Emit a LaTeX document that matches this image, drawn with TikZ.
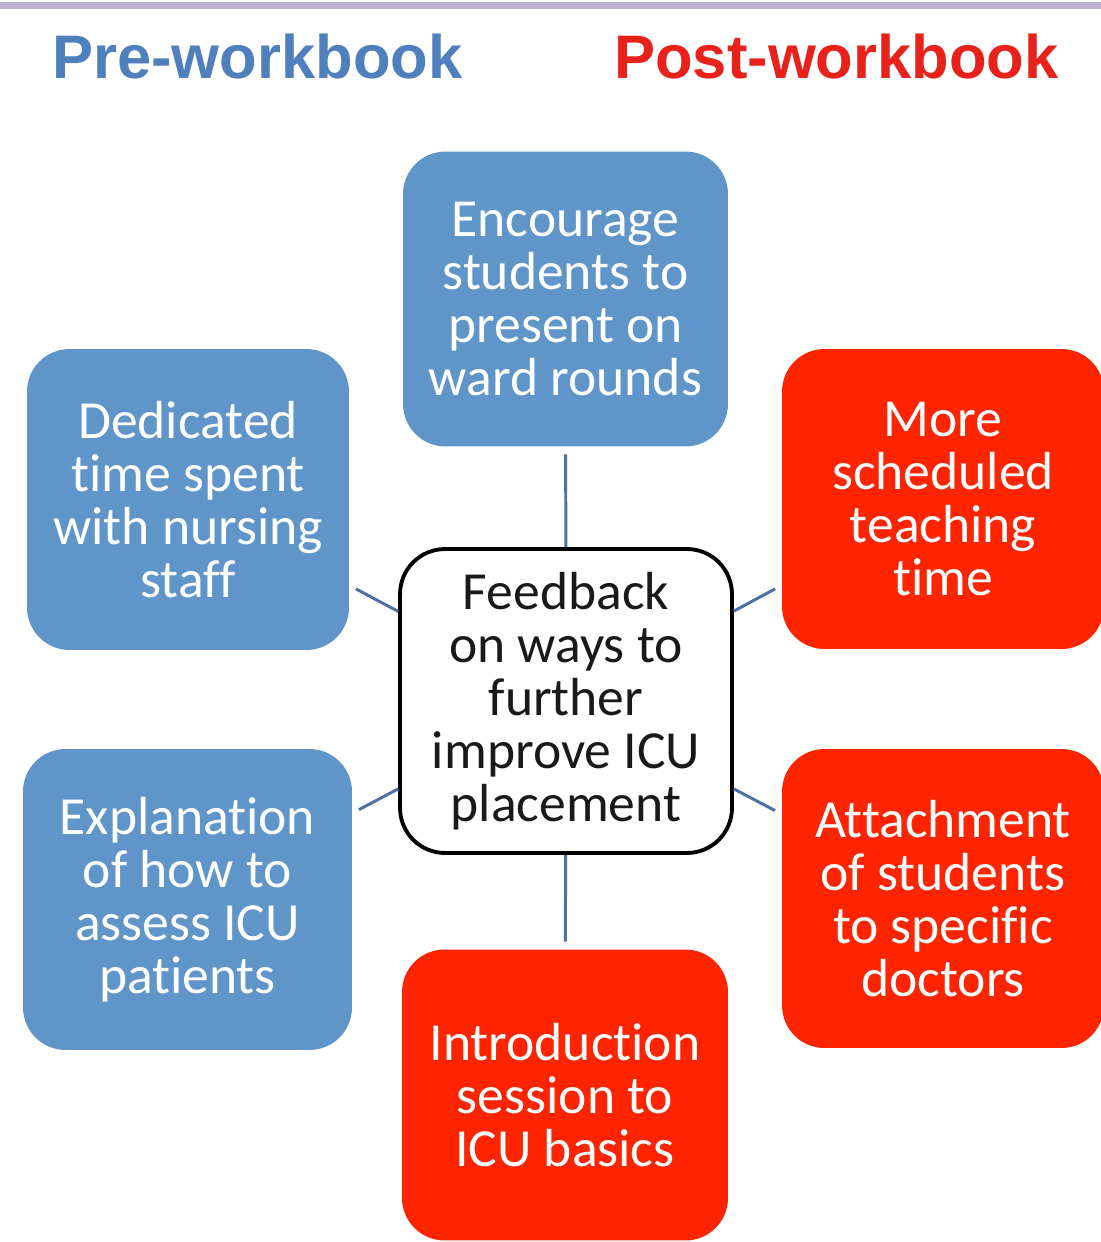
\documentclass[tikz,border=0pt]{standalone}
\usepackage{fontspec}
\setmainfont{Carlito}[Ligatures={NoCommon,NoDiscretionary}]
\newfontfamily\headfont{Liberation Sans}
\definecolor{barpurple}{HTML}{BFB1D6}
\definecolor{preblue}{HTML}{4F7FBD}
\definecolor{postred}{HTML}{E8211B}
\definecolor{boxblue}{HTML}{6095CA}
\definecolor{boxred}{HTML}{FF2400}
\definecolor{linkblue}{HTML}{4D71A3}
\tikzset{
  px/.style={x=0.02cm,y=-0.02cm},
  heading/.style={inner sep=0pt,anchor=base west,font=\headfont\bfseries\fontsize{35}{35}\selectfont},
  card/.style={rounded corners=0.85cm,inner sep=0pt,align=center,text=white,
    font=\fontsize{30.5}{30.2}\selectfont},
  precard/.style={card,fill=boxblue},
  postcard/.style={card,fill=boxred},
  hub/.style={rounded corners=0.9cm,draw=black,line width=2.2pt,fill=white,inner sep=0pt,
    align=center,text=black!90,font=\fontsize{30.5}{30.2}\selectfont,
    minimum width=6.64cm,minimum height=6.08cm},
  link/.style={draw=linkblue,line width=1.7pt,shorten >=0.15cm}
}
\begin{document}
\begin{tikzpicture}[px]
  \useasboundingbox (0,0) rectangle (1101,1242);
  \clip (0,0) rectangle (1101,1242);
  \fill[white] (0,0) rectangle (1101,1242);
  % top rule
  \fill[barpurple] (0,1.5) rectangle (1101,9);
  % headings
  \node[heading,text=preblue] (pre) at (52,78) {Pre-workbook};
  \node[heading,text=postred] (post) at (614,78) {Post-workbook};
  % central node
  \node[hub] (c) at (566,701) {Feedback\\on ways to\\further\\improve ICU\\placement};
  % surrounding suggestions
  \node[precard,minimum width=6.5cm,minimum height=5.9cm] (t) at (565.5,299)
    {Encourage\\students to\\present on\\ward rounds};
  \node[precard,minimum width=6.44cm,minimum height=6.02cm] (lt) at (188,499.5)
    {Dedicated\\time spent\\with nursing\\staff};
  \node[postcard,minimum width=6.44cm,minimum height=6.0cm] (rt) at (943,499)
    {More\\scheduled\\teaching\\time};
  \node[precard,minimum width=6.58cm,minimum height=6.02cm] (lb) at (187.5,899.5)
    {Explanation\\of how to\\assess ICU\\patients};
  \node[postcard,minimum width=6.44cm,minimum height=5.98cm] (rb) at (943,898.5)
    {Attachment\\of students\\to specific\\doctors};
  \node[postcard,minimum width=6.52cm,minimum height=5.82cm] (b) at (565,1095)
    {Introduction\\session to\\ICU basics};
  % connectors from the hub
  \foreach \n in {t,lt,rt,lb,rb,b}
    \draw[link] (c) -- (\n);
\end{tikzpicture}
\end{document}
